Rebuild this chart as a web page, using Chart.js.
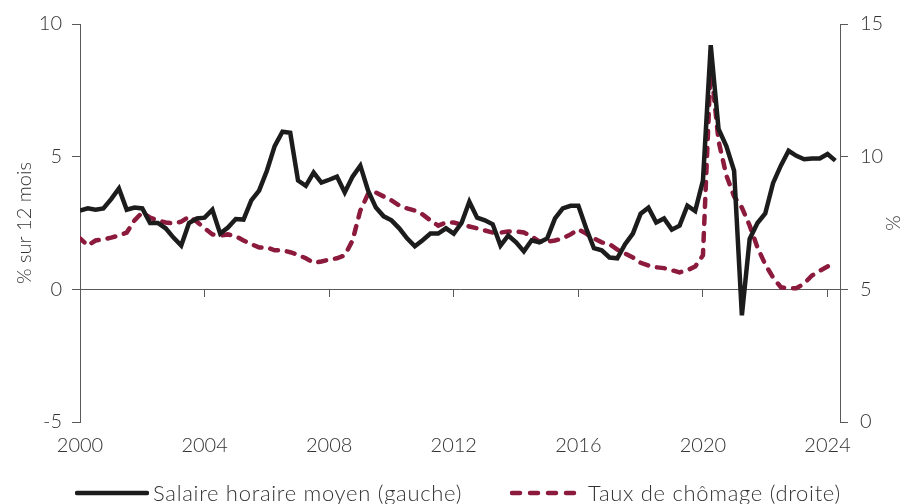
<!DOCTYPE html>
<html>
<head>
<meta charset="utf-8">
<script src="https://cdn.jsdelivr.net/npm/chart.js@4/dist/chart.umd.min.js"></script>
<style>
  body { margin: 0; background: #fff; }
  #wrap { position: relative; width: 905px; height: 504px; }
  #legend {
    position: absolute; left: 75px; top: 479px;
    display: flex; align-items: center;
    font-family: Lato, sans-serif; font-weight: 300; font-size: 22px; letter-spacing: 0.7px; color: #333;
  }
  #legend .item { display: flex; align-items: center; margin-right: 48px; }
  #legend svg { margin-right: 4px; }
</style>
</head>
<body>
<div id="wrap">
  <canvas id="chart" width="905" height="504"></canvas>
  <div id="legend">
    <span class="item"><svg width="74" height="8"><line x1="2" y1="4" x2="72" y2="4" stroke="#1c1c1c" stroke-width="4.5" stroke-linecap="round"/></svg>Salaire horaire moyen (gauche)</span>
    <span class="item"><svg width="74" height="8"><line x1="2" y1="4" x2="72" y2="4" stroke="#8b1a3c" stroke-width="4.5" stroke-linecap="round" stroke-dasharray="8 10"/></svg>Taux de chômage (droite)</span>
  </div>
</div>
<script>
// quarterly, 2000Q1 to 2024Q2
var firstYear = 2000;
var yearTicks = [2000, 2004, 2008, 2012, 2016, 2020, 2024];

// salaire horaire moyen, % sur 12 mois (left axis)
var wage = [
  2.97, 3.05, 3.0, 3.05, 3.4, 3.8, 3.0, 3.08, 3.05, 2.5, 2.5, 2.3, 1.95, 1.65, 2.5, 2.67, 2.7, 3.0, 2.1, 2.33,
  2.65, 2.63, 3.35, 3.72, 4.47, 5.4, 5.94, 5.9, 4.1, 3.9, 4.4, 4.02, 4.13, 4.25, 3.65, 4.25, 4.66, 3.72, 3.08, 2.75,
  2.6, 2.3, 1.92, 1.62, 1.85, 2.1, 2.1, 2.3, 2.1, 2.5, 3.3, 2.7, 2.6, 2.45, 1.65, 2.03, 1.77, 1.43, 1.85, 1.77,
  1.92, 2.67, 3.05, 3.15, 3.15, 2.3, 1.55, 1.47, 1.2, 1.17, 1.7, 2.1, 2.85, 3.08, 2.52, 2.67, 2.25, 2.4, 3.15, 2.95,
  4.1, 9.2, 6.05, 5.4, 4.47, -0.98, 1.9, 2.5, 2.86, 4.0, 4.66, 5.22, 5.03, 4.9, 4.93, 4.93, 5.1, 4.85
];

// taux de chômage, % (right axis)
var unemployment = [
  6.92, 6.65, 6.84, 6.88, 6.95, 7.03, 7.14, 7.6, 7.9, 7.7, 7.6, 7.52, 7.48, 7.55, 7.74, 7.55, 7.3, 7.07, 7.03, 7.07,
  7.0, 6.84, 6.7, 6.58, 6.58, 6.47, 6.47, 6.4, 6.3, 6.17, 6.0, 6.05, 6.12, 6.17, 6.28, 6.84, 7.97, 8.6, 8.65, 8.5,
  8.35, 8.16, 8.05, 7.97, 7.82, 7.6, 7.4, 7.52, 7.52, 7.44, 7.37, 7.3, 7.22, 7.14, 7.14, 7.18, 7.18, 7.14, 7.0, 6.8,
  6.8, 6.84, 6.92, 7.07, 7.26, 7.1, 6.92, 6.77, 6.7, 6.5, 6.35, 6.2, 6.0, 5.9, 5.83, 5.8, 5.72, 5.64, 5.72, 5.86,
  6.28, 13.45, 10.6, 9.3, 8.5, 8.08, 7.4, 6.58, 5.94, 5.45, 5.08, 5.04, 5.04, 5.22, 5.52, 5.7, 5.86, 6.0
];

function toPoints(values) {
  return values.map(function(v, i) { return {x: firstYear + i / 4, y: v}; });
}

var axisColor = '#595959';
var textColor = '#333';
var font = {family: 'Lato, sans-serif', size: 20, weight: 300};
var setYearTicks = function(scale) {
  scale.ticks = yearTicks.map(function(v) { return {value: v}; });
};

new Chart(document.getElementById('chart'), {
  type: 'line',
  data: {
    datasets: [{
      label: 'Salaire horaire moyen (gauche)',
      data: toPoints(wage),
      yAxisID: 'y',
      borderColor: '#1c1c1c',
      borderWidth: 4.5,
      pointRadius: 0,
      tension: 0
    }, {
      label: 'Taux de chômage (droite)',
      data: toPoints(unemployment),
      yAxisID: 'y1',
      borderColor: '#8b1a3c',
      borderWidth: 4.5,
      borderDash: [8, 9],
      borderDashOffset: 2,
      borderCapStyle: 'round',
      pointRadius: 0,
      tension: 0
    }]
  },
  options: {
    responsive: false,
    animation: false,
    layout: {padding: {top: 23, bottom: 0, left: 0, right: 0}},
    plugins: {legend: {display: false}, tooltip: {enabled: false}},
    scales: {
      x: {
        type: 'linear',
        position: 'bottom',
        min: 2000,
        max: 2024.4,
        afterBuildTicks: setYearTicks,
        afterFit: function(s) { s.height = 82; },
        grid: {display: false, drawTicks: false},
        border: {display: false},
        ticks: {color: textColor, font: font, padding: 12, maxRotation: 0,
          callback: function(v) { return String(v); }}
      },
      x0: {
        type: 'linear',
        position: {y: 0},
        min: 2000,
        max: 2024.4,
        afterBuildTicks: setYearTicks,
        grid: {drawOnChartArea: false, drawTicks: true, tickLength: 7, color: axisColor, lineWidth: 1},
        border: {display: true, color: axisColor, width: 1},
        ticks: {display: false}
      },
      y: {
        position: 'left',
        min: -5,
        max: 10,
        afterFit: function(s) { s.width = 80; },
        grid: {drawOnChartArea: false, tickLength: 8, color: axisColor},
        border: {color: axisColor},
        ticks: {stepSize: 5, color: textColor, font: font, padding: 10},
        title: {display: true, text: '% sur 12 mois', color: textColor, font: font, padding: {top: 13, bottom: 0}}
      },
      y1: {
        position: 'right',
        min: 0,
        max: 15,
        afterFit: function(s) { s.width = 65; },
        grid: {drawOnChartArea: false, tickLength: 8, color: axisColor},
        border: {color: axisColor},
        ticks: {stepSize: 5, color: textColor, font: font, padding: 12},
        title: {display: true, text: '%', color: textColor, font: font, padding: {top: 1, bottom: 0}}
      }
    }
  }
});
</script>
</body>
</html>
